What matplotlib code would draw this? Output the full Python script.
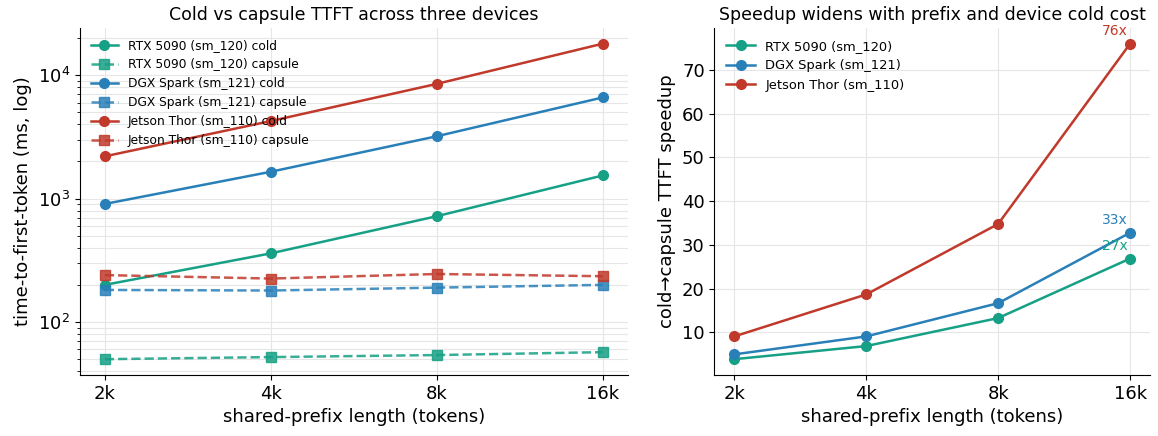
import numpy as np
import matplotlib
matplotlib.use("Agg")
import matplotlib.pyplot as plt

# data
prefix = ["2k", "4k", "8k", "16k"]
devices = ["RTX 5090 (sm_120)", "DGX Spark (sm_121)", "Jetson Thor (sm_110)"]
colors = ["#16a085", "#2980b9", "#c0392b"]

cold_5090 = [200, 360, 720, 1540]
cold_spark = [905, 1650, 3200, 6600]
cold_thor = [2200, 4250, 8500, 18000]
capsule_5090 = [50, 52, 54, 57]
capsule_spark = [182, 180, 190, 200]
capsule_thor = [240, 225, 245, 235]

speedup_5090 = [3.9, 6.9, 13.3, 26.9]
speedup_spark = [5.0, 9.1, 16.7, 32.8]
speedup_thor = [9.1, 18.7, 34.8, 76.0]

cold = [cold_5090, cold_spark, cold_thor]
capsule = [capsule_5090, capsule_spark, capsule_thor]
speedup = [speedup_5090, speedup_spark, speedup_thor]

x = np.arange(len(prefix))

fig = plt.figure(figsize=(11.58, 4.36), dpi=100)
ax1 = fig.add_axes([0.069, 0.140, 0.473, 0.796])
ax2 = fig.add_axes([0.617, 0.140, 0.376, 0.796])

# left: cold vs capsule, log scale
for name, c, yc, yk in zip(devices, colors, cold, capsule):
    ax1.plot(x, yc, "-o", color=c, lw=1.8, ms=7, label=f"{name} cold")
    ax1.plot(x, yk, "--s", color=c, lw=1.8, ms=7, alpha=0.85, label=f"{name} capsule")
ax1.set_yscale("log")
ax1.set_xticks(x)
ax1.set_xticklabels(prefix)
ax1.set_xlabel("shared-prefix length (tokens)", fontsize=13)
ax1.set_ylabel("time-to-first-token (ms, log)", fontsize=13)
ax1.set_title("Cold vs capsule TTFT across three devices", fontsize=12.5)
ax1.grid(True, which="both", color="#e6e6e6", lw=0.8)
ax1.legend(loc="upper left", fontsize=8.8, frameon=False, handlelength=2.2,
           labelspacing=0.5)

# right: speedup
for name, c, s in zip(devices, colors, speedup):
    ax2.plot(x, s, "-o", color=c, lw=1.8, ms=7, label=name)
    ax2.annotate(f"{s[-1]:.0f}x", (x[-1], s[-1]), xytext=(-2, 4),
                 textcoords="offset points", ha="right", va="bottom",
                 color=c, fontsize=10)
ax2.set_xticks(x)
ax2.set_xticklabels(prefix)
ax2.set_yticks([10, 20, 30, 40, 50, 60, 70])
ax2.set_xlabel("shared-prefix length (tokens)", fontsize=13)
ax2.set_ylabel("cold\u2192capsule TTFT speedup", fontsize=13)
ax2.set_title("Speedup widens with prefix and device cold cost", fontsize=12.5)
ax2.grid(True, color="#e6e6e6", lw=0.8)
ax2.legend(loc="upper left", fontsize=9.4, frameon=False, handlelength=2.2)

for ax in (ax1, ax2):
    ax.spines["top"].set_visible(False)
    ax.spines["right"].set_visible(False)
    ax.tick_params(labelsize=13)
    ax.set_axisbelow(True)

fig.savefig("out.png", dpi=100)
